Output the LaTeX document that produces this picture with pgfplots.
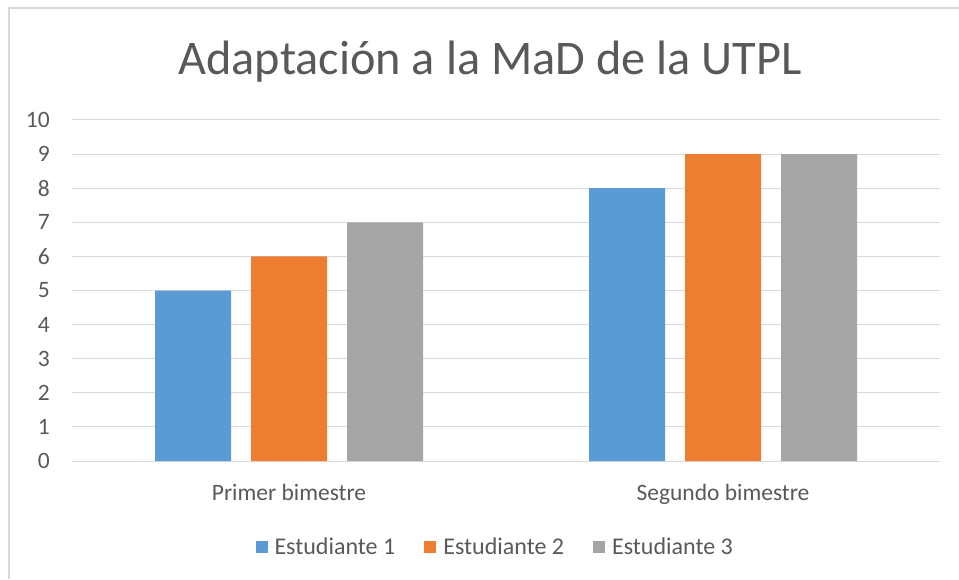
\documentclass[border=0pt]{standalone}
\usepackage{pgfplots}
\pgfplotsset{compat=1.18}
\usepackage{fontspec}
\setmainfont{Carlito}
\definecolor{txt}{HTML}{595959}
\definecolor{gridc}{HTML}{D9D9D9}
\definecolor{s1}{HTML}{5B9BD5}
\definecolor{s2}{HTML}{ED7D31}
\definecolor{s3}{HTML}{A5A5A5}
\begin{document}
\begin{tikzpicture}[x=1pt,y=1pt]
\useasboundingbox (0,0) rectangle (959,579);
\draw[gridc, line width=1.2pt] (9,0) -- (9,571) -- (959,571);
\node[anchor=base, text=txt, font=\fontsize{48.3}{58}\selectfont] at (490,504) {Adaptación a la MaD de la UTPL};
\begin{axis}[
  at={(72pt,118pt)}, anchor=south west,
  scale only axis, width=868pt, height=341pt,
  xmin=-0.5, xmax=1.5, ymin=0, ymax=10,
  ytick={0,1,...,10},
  xtick={0,1}, xticklabels={Primer bimestre,Segundo bimestre},
  ymajorgrids, grid style={gridc, line width=1pt},
  axis line style={draw=none},
  major tick length=0pt,
  /pgf/number format/assume math mode=true,
  ticklabel style={text=txt, font=\fontsize{23.5}{28}\selectfont},
  yticklabel style={anchor=east, inner sep=0pt, xshift=-22pt},
  xticklabel style={anchor=base, inner sep=0pt, yshift=-39pt},
  ybar, bar width=76pt,
  legend image code/.code={\fill[#1] (0pt,-6pt) rectangle (12pt,6pt); \path (0pt,0pt) -- (18pt,0pt);},
  legend columns=3,
  legend style={at={(0.487,-0.252)}, anchor=center, draw=none, fill=none,
    font=\fontsize{24}{28}\selectfont, text=txt,
    /tikz/every even column/.append style={column sep=28pt},
    nodes={inner sep=1pt}},
]
\addplot[fill=s1, draw=none, bar shift=-96pt] coordinates {(0,5) (1,8)};
\addplot[fill=s2, draw=none, bar shift=0pt] coordinates {(0,6) (1,9)};
\addplot[fill=s3, draw=none, bar shift=96pt] coordinates {(0,7) (1,9)};
\legend{Estudiante 1,Estudiante 2,Estudiante 3}
\end{axis}
\end{tikzpicture}
\end{document}
